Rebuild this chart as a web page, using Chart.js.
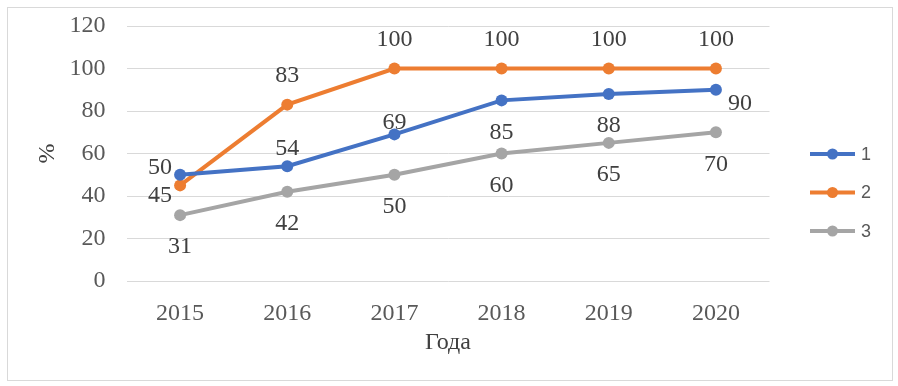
<!DOCTYPE html>
<html>
<head>
<meta charset="utf-8">
<script src="https://cdn.jsdelivr.net/npm/chart.js@4"></script>
<style>
  body { margin: 0; background: #fff; }
</style>
</head>
<body>
<canvas id="chart" width="898" height="386"></canvas>
<script>
// values
const years = ['2015', '2016', '2017', '2018', '2019', '2020'];
const series1 = [50, 54, 69, 85, 88, 90];
const series2 = [45, 83, 100, 100, 100, 100];
const series3 = [31, 42, 50, 60, 65, 70];
const seriesNames = ['1', '2', '3'];
const yMin = 0, yMax = 120, yStep = 20;

const colors = ['#4472C4', '#ED7D31', '#A5A5A5'];

// where each data label sits relative to its point (px)
const labelOffsets = [
    [[-20, -7], [0, -18], [0, -12], [0, 32], [0, 32], [24, 14]],
    [[-20, 10], [0, -29], [0, -29], [0, -29], [0, -29], [0, -29]],
    [[0, 32], [0, 32], [0, 32], [0, 32], [0, 32], [0, 32]]
];

const serif = "'Liberation Serif', 'Times New Roman', serif";

const frame = {
    id: 'frame',
    beforeDraw(chart) {
        const ctx = chart.ctx;
        ctx.save();
        ctx.fillStyle = '#fff';
        ctx.fillRect(0, 0, chart.width, chart.height);
        ctx.strokeStyle = '#d9d9d9';
        ctx.lineWidth = 1;
        ctx.strokeRect(7.5, 7.5, 885, 373);
        ctx.restore();
    }
};

const dataLabels = {
    id: 'dataLabels',
    afterDatasetsDraw(chart) {
        const ctx = chart.ctx;
        ctx.save();
        ctx.font = '24px ' + serif;
        ctx.fillStyle = '#404040';
        ctx.textAlign = 'center';
        ctx.textBaseline = 'middle';
        chart.data.datasets.forEach((ds, i) => {
            const meta = chart.getDatasetMeta(i);
            meta.data.forEach((pt, j) => {
                const off = labelOffsets[i][j];
                ctx.fillText(String(ds.data[j]), pt.x + off[0], pt.y + off[1]);
            });
        });
        ctx.restore();
    }
};

const sideLegend = {
    id: 'sideLegend',
    afterDraw(chart) {
        const ctx = chart.ctx;
        ctx.save();
        chart.data.datasets.forEach((ds, i) => {
            const y = 154 + i * 38.5;
            ctx.strokeStyle = ds.borderColor;
            ctx.lineWidth = 4;
            ctx.beginPath();
            ctx.moveTo(810, y);
            ctx.lineTo(855, y);
            ctx.stroke();
            ctx.fillStyle = ds.borderColor;
            ctx.beginPath();
            ctx.arc(832.5, y, 5.5, 0, 2 * Math.PI);
            ctx.fill();
            ctx.fillStyle = '#595959';
            ctx.font = "18px 'Liberation Sans', Arial, sans-serif";
            ctx.textAlign = 'left';
            ctx.textBaseline = 'middle';
            ctx.fillText(ds.label, 861, y + 1);
        });
        ctx.restore();
    }
};

const seriesValues = [series1, series2, series3];

new Chart(document.getElementById('chart'), {
    type: 'line',
    data: {
        labels: years,
        datasets: seriesValues.map((vals, i) => ({
            label: seriesNames[i],
            data: vals,
            borderColor: colors[i],
            backgroundColor: colors[i],
            pointBackgroundColor: colors[i],
            pointBorderWidth: 0,
            pointRadius: 6,
            borderWidth: 4,
            tension: 0,
            clip: false
        }))
    },
    options: {
        responsive: false,
        animation: false,
        devicePixelRatio: 1,
        layout: { padding: { top: 26, right: 128.5, bottom: 0, left: 0 } },
        plugins: {
            legend: { display: false },
            tooltip: { enabled: false }
        },
        scales: {
            x: {
                offset: true,
                grid: { display: false },
                border: { display: false },
                ticks: { color: '#595959', font: { family: serif, size: 24 }, padding: 10 },
                title: { display: true, text: 'Года', color: '#404040', font: { family: serif, size: 24 }, padding: { top: 0, bottom: 29 } },
                afterFit(scale) {
                    scale.height = 105;
                    scale.paddingLeft = 0;
                    scale.paddingRight = 0;
                }
            },
            y: {
                min: yMin,
                max: yMax,
                grid: { color: '#d9d9d9', lineWidth: 1, drawTicks: false },
                border: { display: false },
                ticks: { stepSize: yStep, color: '#595959', font: { family: serif, size: 24 }, padding: 21 },
                title: { display: true, text: '%', color: '#404040', font: { family: serif, size: 24 }, padding: { top: 33, bottom: 0 } },
                afterFit(scale) {
                    scale.width = 126.5;
                    scale.paddingTop = 0;
                    scale.paddingBottom = 0;
                }
            }
        }
    },
    plugins: [frame, dataLabels, sideLegend]
});
</script>
</body>
</html>
